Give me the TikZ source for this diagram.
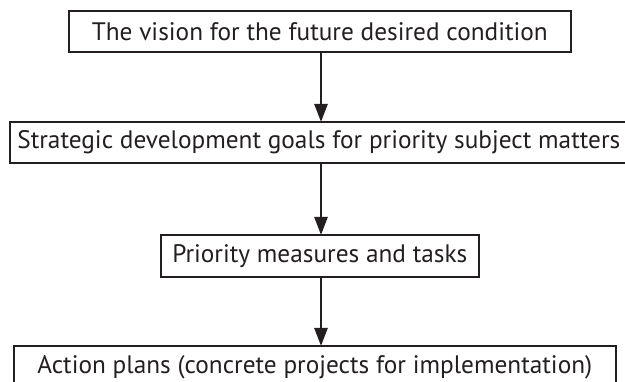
\documentclass[tikz,border=0pt]{standalone}
\usepackage{fontspec}
\setmainfont{PT Sans}
\usetikzlibrary{arrows.meta}
\definecolor{ink}{HTML}{231F20}
\begin{document}
\begin{tikzpicture}[x=1pt,y=-1pt,
  box/.style={draw=ink,line width=1.6pt,inner sep=0pt,anchor=north west,text=ink,
    font=\fontsize{25.3}{26}\selectfont},
  flow/.style={draw=ink,line width=2.6pt,-{Triangle[length=18pt,width=13pt]},shorten >=-1pt}]
\useasboundingbox (0,0) rectangle (625,382);
\clip (0,0) rectangle (625,382);
\node[box,minimum width=502pt,minimum height=41pt] (b1) at (68,10) {The vision for the future desired condition};
\node[box,minimum width=622pt,minimum height=41pt] (b2) at (9,121) {\hspace*{-4pt}Strategic development goals for priority subject matters};
\node[box,minimum width=318pt,minimum height=42pt] (b3) at (160,234) {Priority measures and tasks};
\node[box,minimum width=602pt,minimum height=42pt] (b4) at (13,345) {Action plans (concrete projects for implementation)};
\coordinate (x) at (321,0);
\draw[flow] (b1.south -| x) -- (b2.north -| x);
\draw[flow] (b2.south -| x) -- (b3.north -| x);
\draw[flow] (b3.south -| x) -- (b4.north -| x);
\end{tikzpicture}
\end{document}
